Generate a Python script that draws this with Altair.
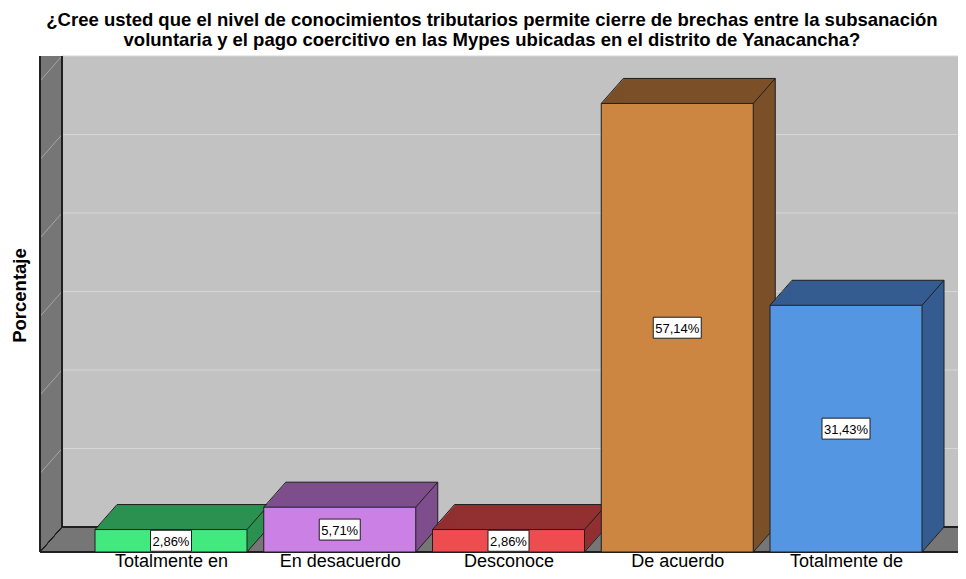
import altair as alt
import pandas as pd

# ---- data ----
categories = ["Totalmente en desacuerdo", "En desacuerdo", "Desconoce", "De acuerdo", "Totalmente de acuerdo"]
tick_labels = ["Totalmente en", "En desacuerdo", "Desconoce", "De acuerdo", "Totalmente de"]
percent = [2.86, 5.71, 2.86, 57.14, 31.43]
front_colors = ["#41E97F", "#CA80E4", "#EE4C4E", "#CD8641", "#5596E3"]
side_colors = ["#2A9150", "#7E4E8C", "#922F30", "#7B5028", "#355C90"]
grid_values = [10, 20, 30, 40, 50, 60]
title_lines = [
    "¿Cree usted que el nivel de conocimientos tributarios permite cierre de brechas entre la subsanación",
    "voluntaria y el pago coercitivo en las Mypes ubicadas en el distrito de Yanacancha?",
]

# ---- layout constants ----
W, H = 904, 471
DX, DY = 22, 25
BAR_W = 152
HB = BAR_W / 2
RIGHT = 918
FONT = "Liberation Sans"
EDGE = "#1E1E1E"

df = pd.DataFrame({
    "idx": list(range(len(categories))),
    "cat": categories,
    "pct": percent,
    "front": front_colors,
    "side": side_colors,
})
df["mid"] = df["pct"] / 2
df["label"] = [f"{v:.2f}".replace(".", ",") + "%" for v in percent]
df["len"] = df["label"].str.len()
grid_df = pd.DataFrame({"g": grid_values})

label_expr = "[" + ",".join("'" + s + "'" for s in tick_labels) + "][datum.value]"

xs = alt.Scale(domain=[-0.7763, 4.5807], nice=False, zero=False, padding=0)
ys = alt.Scale(domain=[0, 60], nice=False, zero=True, padding=0)
x_axis = alt.Axis(values=[0, 1, 2, 3, 4], labelExpr=label_expr, grid=False, ticks=False, tickSize=0,
                  domain=False, labelFont=FONT, labelFontSize=18, labelColor="black", labelPadding=0,
                  labelFlush=False, labelOverlap=False, title=None)
y_axis = alt.Axis(labels=False, ticks=False, tickSize=0, domain=False, grid=False, title="Porcentaje",
                  titleFont=FONT, titleFontSize=18.5, titleFontWeight="bold", titleColor="black",
                  titleAngle=270, titleX=-21, titleY=214, titleAlign="center", titleBaseline="middle")


def X(field="idx"):
    return alt.X(f"{field}:Q", scale=xs, axis=x_axis)


def Y(field):
    return alt.Y(f"{field}:Q", scale=ys, axis=y_axis)


base = alt.Chart(df)
gbase = alt.Chart(grid_df)
layers = []

# back wall
layers.append(gbase.mark_rect(color="#C2C2C2").encode(
    x=alt.value(DX), x2=alt.value(RIGHT), y=alt.value(-DY), y2=alt.value(H - DY)))
# back wall gridlines
layers.append(gbase.mark_rule(color="#D6D6D6", strokeWidth=1, yOffset=-DY).encode(
    y=Y("g"), x=alt.value(DX), x2=alt.value(RIGHT)))
# left wall and floor
layers.append(gbase.mark_rect(color="#767676").encode(
    x=alt.value(0), x2=alt.value(DX), y=alt.value(-DY), y2=alt.value(H)))
layers.append(gbase.mark_rect(color="#767676").encode(
    x=alt.value(0), x2=alt.value(RIGHT), y=alt.value(H - DY), y2=alt.value(H)))
# left wall diagonal grid marks
layers.append(gbase.mark_rule(color="#A6A6A6", strokeWidth=1, y2Offset=-DY).encode(
    y=Y("g"), y2=alt.Y2("g:Q"), x=alt.value(0), x2=alt.value(DX)))
# wall edges
edge_specs = [
    (0, 0, -DY, H),
    (DX, DX, -DY, H - DY),
    (DX, RIGHT, H - DY, H - DY),
    (0, RIGHT, H, H),
    (0, DX, H, H - DY),
]
for x1, x2, y1, y2 in edge_specs:
    layers.append(gbase.mark_rule(color=EDGE, strokeWidth=1).encode(
        x=alt.value(x1), x2=alt.value(x2), y=alt.value(y1), y2=alt.value(y2)))

# 3D bars, drawn left to right
for i in range(len(categories)):
    b = base.transform_filter(f"datum.idx == {i}")
    for k in range(1, DX + 1):
        oy = -DY * k / DX
        layers.append(b.mark_bar(width=BAR_W, orient="vertical", xOffset=k, yOffset=oy, y2Offset=oy).encode(
            x=X(), y=Y("pct"), color=alt.Color("side:N", scale=None)))
    layers.append(b.mark_bar(width=BAR_W, orient="vertical", stroke=EDGE, strokeWidth=1).encode(
        x=X(), y=Y("pct"), color=alt.Color("front:N", scale=None)))
    # top-left and top-right diagonals
    for xo in (-HB, HB):
        layers.append(b.mark_rule(color=EDGE, strokeWidth=1, xOffset=xo, x2Offset=xo + DX, y2Offset=-DY).encode(
            x=X(), x2=alt.X2("idx:Q"), y=Y("pct"), y2=alt.Y2("pct:Q")))
    # bottom-right diagonal
    layers.append(b.mark_rule(color=EDGE, strokeWidth=1, xOffset=HB, x2Offset=HB + DX).encode(
        x=X(), x2=alt.X2("idx:Q"), y=alt.value(H), y2=alt.value(H - DY)))
    # back top edge
    layers.append(b.mark_rule(color=EDGE, strokeWidth=1, xOffset=-HB + DX, x2Offset=HB + DX,
                              yOffset=-DY, y2Offset=-DY).encode(
        x=X(), x2=alt.X2("idx:Q"), y=Y("pct"), y2=alt.Y2("pct:Q")))
    # back right edge
    layers.append(b.mark_rule(color=EDGE, strokeWidth=1, xOffset=HB + DX, x2Offset=HB + DX, yOffset=-DY).encode(
        x=X(), x2=alt.X2("idx:Q"), y=Y("pct"), y2=alt.value(H - DY)))

# value label boxes
for n in sorted(df["len"].unique()):
    w = 7 * int(n) + 6
    layers.append(base.transform_filter(f"datum.len == {int(n)}").mark_rect(
        fill="white", stroke=EDGE, strokeWidth=1, xOffset=-w / 2, x2Offset=w / 2, yOffset=-10.5, y2Offset=10.5
    ).encode(x=X(), x2=alt.X2("idx:Q"), y=Y("mid"), y2=alt.Y2("mid:Q")))
layers.append(base.mark_text(font=FONT, fontSize=13, color="black", align="center", baseline="middle", dy=1).encode(
    x=X(), y=Y("mid"), text="label:N"))

chart = alt.layer(*layers).properties(
    width=W, height=H,
    autosize=alt.AutoSizeParams(type="none"),
    padding={"left": 32, "top": 73, "right": 14, "bottom": 19},
    title=alt.TitleParams(text=title_lines, fontSize=18.5, fontWeight="bold", font=FONT, anchor="middle",
                          frame="group", offset=6, lineHeight=20, color="black"),
).configure_view(stroke=None).configure(background="white")

chart.save("out.html", embed_options={"renderer": "svg", "actions": False})
